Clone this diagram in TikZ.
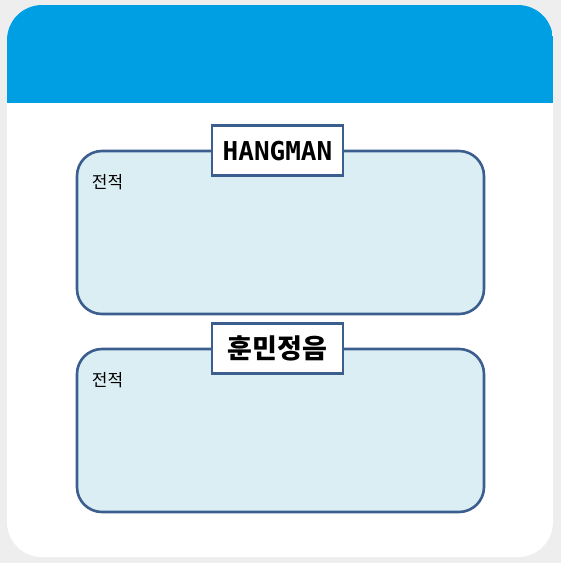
\documentclass[tikz,border=0pt]{standalone}
\usepackage{fontspec}
\usepackage{tikz}
\usetikzlibrary{positioning}
\newfontfamily\krfont{Noto Sans CJK KR}
\newfontfamily\pixelfont{DejaVu Sans Mono}
\definecolor{pagegrey}{HTML}{EEEEEE}
\definecolor{headblue}{HTML}{009FE3}
\definecolor{edgeblue}{HTML}{3B5E8E}
\definecolor{panelfill}{HTML}{DBEEF4}

\begin{document}
\begin{tikzpicture}[x=1pt, y=-1pt,
				panel/.style={rectangle, rounded corners=25pt, draw=edgeblue, line width=2.6pt, fill=panelfill, minimum width=407pt, minimum height=163pt},
				titlebox/.style={rectangle, draw=edgeblue, line width=2.6pt, fill=white, minimum width=131pt, minimum height=50pt, inner sep=0pt},
				record/.style={rectangle, inner sep=0pt, font=\krfont\fontsize{17pt}{17pt}\selectfont}
			]
			\useasboundingbox (0,0) rectangle (561,563);
			\fill[pagegrey] (0,0) rectangle (561,563);
			\fill[white, rounded corners=35pt] (7,5) rectangle (553,557);
			\begin{scope}
			\clip[rounded corners=35pt] (7,5) rectangle (553,557);
			\fill[headblue] (7,5) rectangle (553,103);
			\end{scope}
			\node[panel] (hangman) at (280.5,232.5) {};
			\node[panel] (hunmin) at (280.5,430.5) {};
			\node[titlebox] (hangmantitle) at ([xshift=-3pt,yshift=-1pt]hangman.north) {\pixelfont\bfseries\fontsize{26pt}{26pt}\selectfont HANGMAN};
			\node[titlebox] (hunmintitle) at ([xshift=-3pt,yshift=-1pt]hunmin.north) {\krfont\bfseries\fontsize{27pt}{27pt}\selectfont 훈민정음};
			\node[record] (hangmanrecord) [below right=25pt and 16pt of hangman.north west, anchor=north west] {전적};
			\node[record] (hunminrecord) [below right=25pt and 16pt of hunmin.north west, anchor=north west] {전적};
			\end{tikzpicture}
\end{document}
